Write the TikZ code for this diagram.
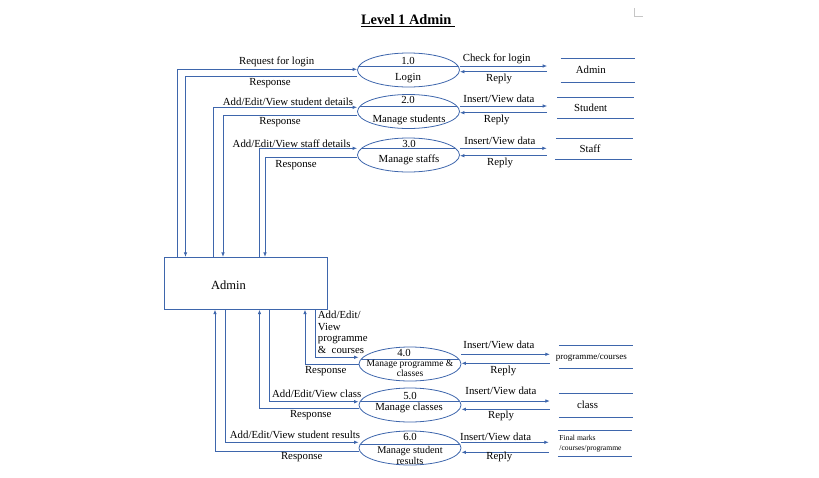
\documentclass[tikz,border=0pt]{standalone}
\usepackage{fontspec}
\setmainfont{Liberation Serif}
\usetikzlibrary{arrows.meta,shapes.geometric}
\definecolor{lineblue}{RGB}{62,102,172}
\begin{document}
\begin{tikzpicture}[x=1pt,y=-1pt,
  lbl/.style={font=\fontsize{10.8}{11.6}\selectfont, inner sep=0pt},
  flow/.style={draw=lineblue, line width=0.8pt},
  arr/.style={flow, -{Latex[length=4.5pt,width=3.6pt]}},
  proc/.style={draw=lineblue, line width=0.8pt, ellipse, minimum width=102pt, minimum height=34pt, inner sep=0pt},
  divider/.style={path picture={\draw[lineblue, line width=0.8pt] ([yshift=#1]path picture bounding box.west) -- ([yshift=#1]path picture bounding box.east);}},
  store/.style={inner sep=0pt, font=\fontsize{10.8}{11.6}\selectfont},
]
\useasboundingbox (0,0) rectangle (819,477);

% title and corner mark
\node[font=\fontsize{14.4}{16}\selectfont\bfseries, inner sep=0pt] (title) at (408,21) {\underline{Level 1 Admin\ }};
\draw[gray!45, line width=0.6pt] (634.5,8) -- (634.5,16) -- (643,16);

% external entity
\node[draw=lineblue, line width=0.8pt, minimum width=163.4pt, minimum height=52pt, inner sep=0pt] (admin) at (246,283.3) {};
\node[font=\fontsize{12.5}{14}\selectfont, inner sep=0pt] (adminlbl) at (228.4,285) {Admin};

% processes
\node[proc, divider=4pt] (p1) at (408.5,70) {};
\node[proc, divider=5.5pt] (p2) at (408.5,111.5) {};
\node[proc, divider=7pt] (p3) at (408.5,155) {};
\node[proc, divider=5pt] (p4) at (410,364) {};
\node[proc, divider=3.5pt] (p5) at (410,405) {};
\node[proc, divider=4pt] (p6) at (410,448) {};

\node[lbl] (n1) at (408,60.5) {1.0};
\node[lbl] (t1) at (408,78.5) {Login};
\node[lbl] (n2) at (408,100) {2.0};
\node[lbl] (t2) at (409,119.5) {Manage students};
\node[lbl] (n3) at (409,143.5) {3.0};
\node[lbl] (t3) at (409,160) {Manage staffs};
\node[lbl] (n4) at (404,353) {4.0};
\node[lbl, font=\fontsize{9.5}{10.5}\selectfont, align=center] (t4) at (410,368.5) {Manage programme \&\\classes};
\node[lbl] (n5) at (410,396) {5.0};
\node[lbl] (t5) at (409,408) {Manage classes};
\node[lbl] (n6) at (410,437) {6.0};
\node[lbl, font=\fontsize{10.3}{11}\selectfont, align=center] (t6) at (410,455.7) {Manage student\\results};

% data stores
\node[store, minimum width=87pt, minimum height=23.4pt] (s1) at (590.8,70) {Admin};
\node[store, minimum width=86.7pt, minimum height=20.6pt] (s2) at (590.7,108) {Student};
\node[store, minimum width=86pt, minimum height=21pt] (s3) at (590,148.8) {Staff};
\node[store, minimum width=82.5pt, minimum height=22.6pt, font=\fontsize{9}{10}\selectfont] (s4) at (591.3,357) {programme/courses};
\node[store, minimum width=83pt, minimum height=23.4pt] (s5) at (591.5,405) {\hspace*{-8pt}class};
\node[store, minimum width=83pt, minimum height=25.7pt, font=\fontsize{7.6}{10}\selectfont, align=left] (s6) at (590.5,443.8) {Final marks\\/courses/programme};

\draw[flow] ([xshift=13.4pt]s1.north west) -- (s1.north east);
\draw[flow] ([xshift=13.4pt]s1.south west) -- (s1.south east);
\draw[flow] ([xshift=10pt]s2.north west) -- (s2.north east);
\draw[flow] ([xshift=10pt]s2.south west) -- (s2.south east);
\draw[flow] ([xshift=9pt]s3.north west) -- (s3.north east);
\draw[flow] ([xshift=8pt]s3.south west) -- ([xshift=-1pt]s3.south east);
\draw[flow] ([xshift=9pt]s4.north west) -- (s4.north east);
\draw[flow] ([xshift=9pt]s4.south west) -- (s4.south east);
\draw[flow] ([xshift=9pt]s5.north west) -- (s5.north east);
\draw[flow] ([xshift=9pt]s5.south west) -- (s5.south east);
\draw[flow] ([xshift=9pt]s6.north west) -- (s6.north east);
\draw[flow] ([xshift=9pt]s6.south west) -- (s6.south east);

% admin <-> upper processes
\draw[arr] (admin.north -| 177,0) |- (p1.west |- 0,69.3);
\draw[arr] (p1.west |- 0,76.5) -| (admin.north -| 185.5,0);
\draw[arr] (admin.north -| 213.7,0) |- (p2.west |- 0,107.3);
\draw[arr] (p2.west |- 0,115.7) -| (admin.north -| 223,0);
\draw[arr] (admin.north -| 259.2,0) |- (p3.west |- 0,148.3);
\draw[arr] (p3.west |- 0,157.7) -| (admin.north -| 265,0);

% admin <-> lower processes
\draw[arr] (admin.south -| 315.5,0) |- (p4.west |- 0,357.3);
\draw[arr] (p4.west |- 0,364.3) -| (admin.south -| 305,0);
\draw[arr] (admin.south -| 269.3,0) |- (p5.west |- 0,401.7);
\draw[arr] (p5.west |- 0,408.3) -| (admin.south -| 259.5,0);
\draw[arr] (admin.south -| 225,0) |- (p6.west |- 0,442.3);
\draw[arr] (p6.west |- 0,451.7) -| (admin.south -| 215,0);

% processes <-> stores
\draw[arr] (p1.east |- 0,66) -- (s1.west |- 0,66);
\draw[arr] (s1.west |- 0,71.7) -- (p1.east |- 0,71.7);
\draw[arr] (p2.east |- 0,106) -- (s2.west |- 0,106);
\draw[arr] (s2.west |- 0,112.7) -- (p2.east |- 0,112.7);
\draw[arr] (p3.east |- 0,148.3) -- (s3.west |- 0,148.3);
\draw[arr] (s3.west |- 0,155.7) -- (p3.east |- 0,155.7);
\draw[arr] (p4.east |- 0,354.3) -- (s4.west |- 0,354.3);
\draw[arr] (s4.west |- 0,363.3) -- (p4.east |- 0,363.3);
\draw[arr] (p5.east |- 0,401) -- (s5.west |- 0,401);
\draw[arr] (s5.west |- 0,409.3) -- (p5.east |- 0,409.3);
\draw[arr] (p6.east |- 0,442.3) -- (s6.west |- 0,442.3);
\draw[arr] (s6.west |- 0,452.3) -- (p6.east |- 0,452.3);

% flow labels, left upper
\node[lbl] (l1a) at (276.7,61.7) {Request for login};
\node[lbl] (l1b) at (270,83.3) {Response};
\node[lbl] (l2a) at (288,101.7) {Add/Edit/View student details};
\node[lbl] (l2b) at (280,121.7) {Response};
\node[lbl] (l3a) at (291.7,143.3) {Add/Edit/View staff details};
\node[lbl] (l3b) at (296,165) {Response};

% flow labels, right upper
\node[lbl] (r1a) at (496.7,59.3) {Check for login};
\node[lbl] (r1b) at (499,79) {Reply};
\node[lbl] (r2a) at (499,99.3) {Insert/View data};
\node[lbl] (r2b) at (496.7,120) {Reply};
\node[lbl] (r3a) at (500,141) {Insert/View data};
\node[lbl] (r3b) at (500,162.7) {Reply};

% flow labels, left lower
\node[lbl, align=left, anchor=west] (l4a) at (317.7,332.2) {Add/Edit/\\View\\programme\\\&~ courses};
\node[lbl] (l4b) at (325.7,370.7) {Response};
\node[lbl] (l5a) at (316.7,394.3) {Add/Edit/View class};
\node[lbl] (l5b) at (310.7,415) {Response};
\node[lbl] (l6a) at (295,435) {Add/Edit/View student results};
\node[lbl] (l6b) at (301.7,457.3) {Response};

% flow labels, right lower
\node[lbl] (r4a) at (499,345) {Insert/View data};
\node[lbl] (r4b) at (503.3,370.7) {Reply};
\node[lbl] (r5a) at (501,390.7) {Insert/View data};
\node[lbl] (r5b) at (501,415.7) {Reply};
\node[lbl] (r6a) at (495.7,436.7) {Insert/View data};
\node[lbl] (r6b) at (499.3,457.3) {Reply};
\end{tikzpicture}
\end{document}
